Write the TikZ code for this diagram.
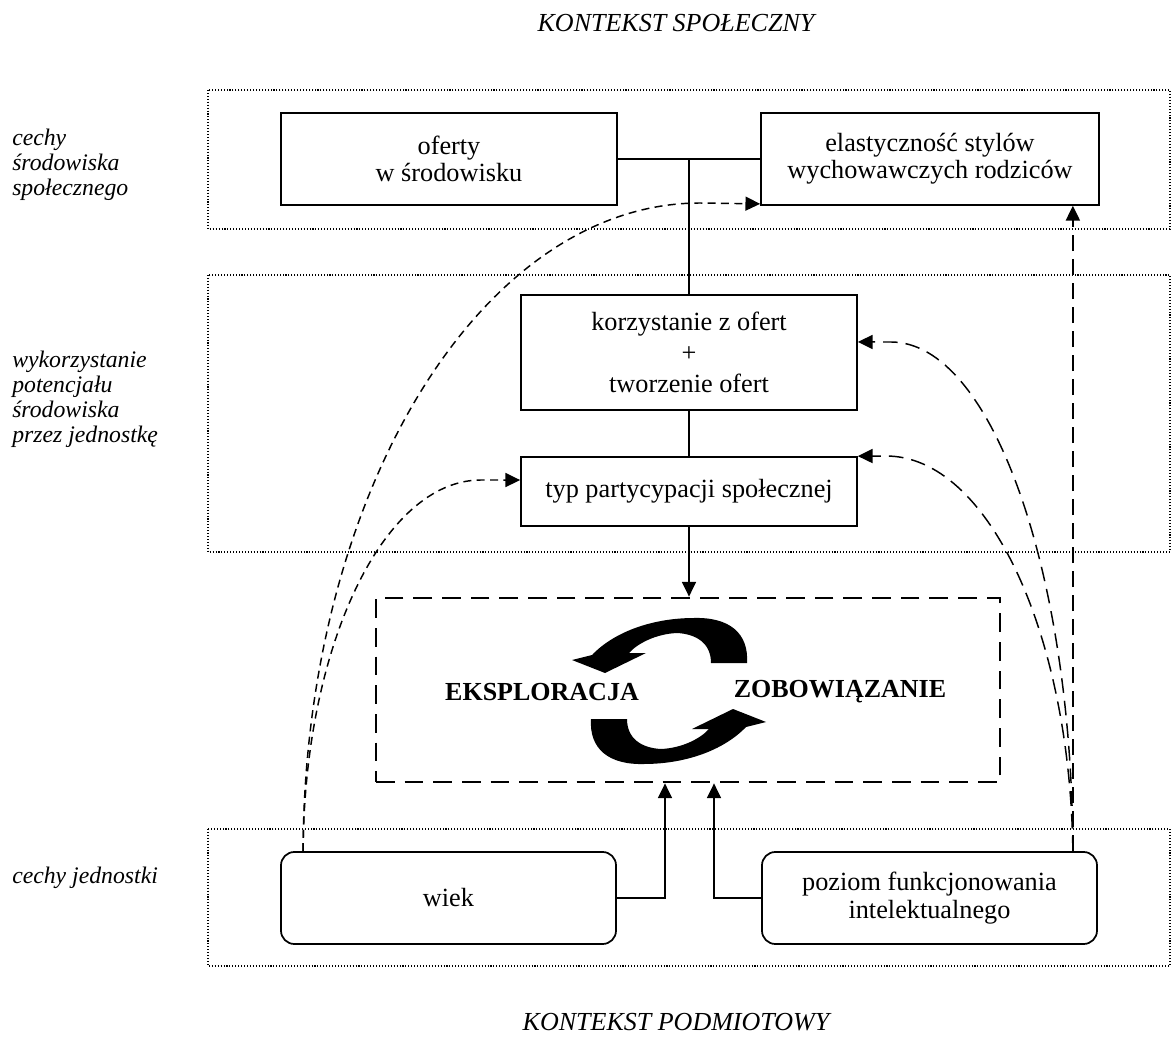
\documentclass[tikz,border=0pt]{standalone}
\usepackage{fontspec}
\setmainfont{Liberation Serif}
\usetikzlibrary{arrows.meta,calc}
\newcommand\boxfont{\fontsize{19.7}{20.5}\selectfont}
\newcommand\labfont{\fontsize{17.8}{18.8}\selectfont\itshape}
\newcommand\ttlfont{\fontsize{19.5}{20}\selectfont\itshape}
\newcommand\bldfont{\fontsize{19.5}{20}\selectfont\bfseries}
\newcommand\cyclearrow{%
  (78,-26) .. controls (80,-56) and (60,-72) .. (25,-71)
  .. controls (-15,-71) and (-54,-58) .. (-77,-34)
  -- (-97,-29) -- (-64,-16) -- (-23,-36) -- (-40,-36)
  .. controls (-32,-45) and (-14,-55) .. (8,-56)
  .. controls (27,-55) and (42,-46) .. (42,-26) -- cycle}
\tikzset{
  box/.style={draw, line width=1.3pt, inner sep=0pt, align=center, font=\boxfont},
  rbox/.style={box, rounded corners=10pt},
  cycbox/.style={draw, line width=2.1pt, dash pattern=on 14pt off 7.5pt, inner sep=0pt},
  band/.style={line width=0.8pt, dash pattern=on 0.8pt off 1.4pt},
  lab/.style={font=\labfont, align=left, anchor=west, inner sep=0pt},
  ttl/.style={font=\ttlfont, inner sep=0pt},
  bld/.style={font=\bldfont, inner sep=0pt},
  conn/.style={line width=1.1pt},
  arr/.style={-{Triangle[length=11pt,width=10.5pt]}},
  sdash/.style={line width=1.1pt, dash pattern=on 6pt off 4pt},
  ldash/.style={line width=1.1pt, dash pattern=on 11pt off 6pt},
  vdash/.style={line width=1.4pt, dash pattern=on 12pt off 6pt}
}
\begin{document}
\begin{tikzpicture}[x=0.75pt,y=-0.75pt]
\path[use as bounding box] (0,0) rectangle (1171,1048);

% bands
\draw[band] (208,90) rectangle (1170,229);
\draw[band] (208,275) rectangle (1170,552);
\draw[band] (208,829) rectangle (1170,966);

% titles
\node[ttl] (t1) at (676,23) {KONTEKST SPOŁECZNY};
\node[ttl] (t2) at (676,1022) {KONTEKST PODMIOTOWY};

% side labels
\node[lab] (l1) at (12,165) {cechy\\środowiska\\społecznego};
\node[lab] (l2) at (12,399) {wykorzystanie\\potencjału\\środowiska\\przez jednostkę};
\node[lab] (l3) at (12,878) {cechy jednostki};

% boxes
\node[box, minimum width=252pt, minimum height=69pt] (oferty) at (449,159) {oferty\\w środowisku};
\node[box, minimum width=253.5pt, minimum height=69pt] (elast) at (930,159) {elastyczność stylów\\wychowawczych rodziców};
\node[box, minimum width=252pt, minimum height=86.25pt, font=\fontsize{19.7}{23}\selectfont] (korz) at (689,352.5) {korzystanie z ofert\\+\\tworzenie ofert};
\node[box, minimum width=252pt, minimum height=51.75pt] (typ) at (689,491.5) {typ partycypacji społecznej};
\node[cycbox, minimum width=468pt, minimum height=138pt] (cyc) at (688,690) {};
\node[rbox, minimum width=251.25pt, minimum height=69pt] (wiek) at (448.5,898) {wiek};
\node[rbox, minimum width=251.25pt, minimum height=69pt] (poziom) at (929.5,898) {poziom funkcjonowania\\intelektualnego};

% cycle
\node[bld] (eks) at (542,692) {EKSPLORACJA};
\node[bld] (zob) at (840,692) {ZOBOWIĄZANIE};
\begin{scope}[shift={(669,689)}]
  \fill \cyclearrow;
\end{scope}
\begin{scope}[shift={(669,693)}, rotate=180]
  \fill \cyclearrow;
\end{scope}

% solid connectors
\draw[conn] (oferty.east) -- (elast.west);
\draw[conn] (korz.north) -- (korz.north |- oferty.east);
\draw[conn] (korz.south) -- (typ.north);
\draw[conn, arr] (typ.south) -- (typ.south |- cyc.north);
\draw[conn, arr] (wiek.east) -| ([xshift=-17.25pt]cyc.south);
\draw[conn, arr] (poziom.west) -| ([xshift=19.5pt]cyc.south);

% dashed influences, left
\coordinate (ws) at ($(wiek.north west)+(23,0)$);
\draw[sdash, arr] (ws) .. controls (304,494) and (481,203) .. (700,203) -- ([yshift=1.5pt]elast.south west);
\draw[sdash, arr] (ws) .. controls (304,647) and (383,480) .. (481,480) -- ([yshift=8.6pt]typ.west);

% dashed influences, right
\coordinate (ps) at ($(poziom.north east)+(-25,0)$);
\draw[vdash, arr] (ps) -- (ps |- elast.south);
\draw[ldash, arr] (ps) .. controls (1072,570) and (991,342) .. (891,342) -- ([yshift=7.9pt]korz.east);
\draw[ldash, arr] (ps) .. controls (1070,633) and (988,456) .. (886,456) -- (typ.north east);
\end{tikzpicture}
\end{document}
